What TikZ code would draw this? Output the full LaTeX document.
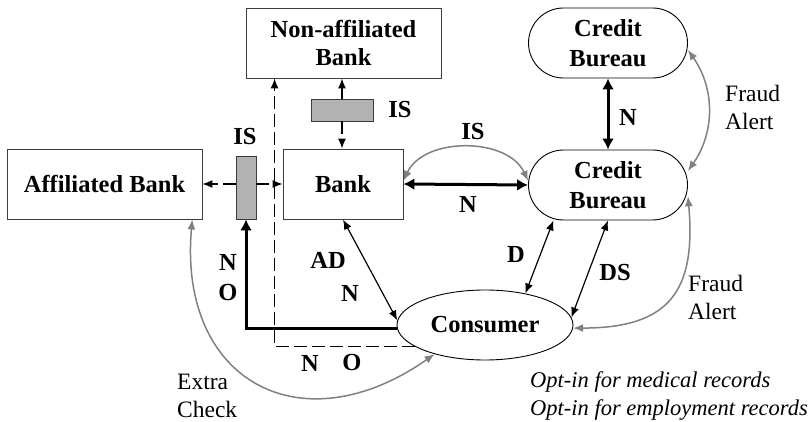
\documentclass[tikz,border=0pt]{standalone}
\usepackage{fontspec}
\setmainfont{Liberation Serif}
\usepackage{tikz}
\usetikzlibrary{shapes.geometric, arrows.meta, positioning, calc}
\definecolor{arcgray}{RGB}{128,128,128}
\definecolor{isgray}{RGB}{178,178,178}
\definecolor{boxline}{RGB}{60,60,60}

\begin{document}
\begin{tikzpicture}[x=1pt,y=-1pt,
    >={Latex[length=10pt,width=8pt]},
    bankbox/.style={rectangle,draw=boxline,line width=0.9pt,minimum width=#1,minimum height=70pt,inner sep=0pt,align=center,font=\fontsize{24.5}{28}\selectfont\bfseries},
    bankbox/.default=195pt,
    bureaubox/.style={rectangle,rounded corners=35pt,draw=black,line width=0.9pt,minimum width=159pt,minimum height=70pt,inner sep=0pt,align=center,font=\fontsize{24.5}{30}\selectfont\bfseries},
    consumerbox/.style={ellipse,draw=black,line width=0.9pt,minimum width=176pt,minimum height=70pt,inner sep=0pt,font=\fontsize{24.5}{28}\selectfont\bfseries},
    isbar/.style={rectangle,draw=boxline,line width=0.9pt,fill=isgray,inner sep=0pt},
    lbl/.style={font=\fontsize{24.5}{28}\selectfont\bfseries,inner sep=0pt},
    note/.style={font=\fontsize{23.5}{28}\selectfont,align=left,anchor=west,inner sep=0pt},
    biarrow/.style={line width=1.2pt,<->},
    thickarrow/.style={line width=3pt,>={Latex[length=11pt,width=12pt]}},
    grayarc/.style={draw=arcgray,line width=1.5pt,<->},
    dasharrow/.style={line width=1.2pt,dash pattern=on 13pt off 5pt,->}]
    \useasboundingbox (0,0) rectangle (808,422);

    % Banks
    \node[bankbox] (aff) at (104.5,184) {Affiliated Bank};
    \node[bankbox] (nab) at (343.5,43) {Non-affiliated\\Bank};
    \node[bankbox=120pt] (bank) at (343,184) {Bank};

    % Credit bureaus and consumer
    \node[bureaubox] (cbt) at (608,43) {Credit\\Bureau};
    \node[bureaubox] (cb) at (608,185) {Credit\\Bureau};
    \node[consumerbox] (cons) at (485,325) {Consumer};

    % IS bars
    \node[isbar,minimum width=20pt,minimum height=63pt] (isv) at (246,187.5) {};
    \node[isbar,minimum width=62pt,minimum height=22pt] (ish) at (342,110) {};

    % Information sharing between banks
    \draw[dasharrow] (isv.west |- aff.east) -- (aff.east);
    \draw[dasharrow] (isv.east |- bank.west) -- (bank.west);
    \draw[line width=1.2pt,->] (ish.north) -- (ish.north |- nab.south);
    \draw[dasharrow] (ish.south) -- (ish.south |- bank.north);
    \draw[dasharrow] (cons.197) -| ($(nab.south west)+(29,0)$);
    \draw[thickarrow,->] (cons.182) -| (isv.south);

    % Bank, bureaus, consumer
    \draw[thickarrow,<->] (bank.east) -- (cb.west);
    \draw[grayarc] (bank.3) to[bend left=65] (cb.177);
    \draw[thickarrow,<->] (cbt.south) -- (cb.north);
    \draw[biarrow] (bank.south) -- (cons.177);
    \draw[biarrow] (cons.38) -- (cb.213);
    \draw[biarrow] (cb.south) -- (cons.5);
    \draw[grayarc] (cbt.-5) to[bend left=35] (cb.10);
    \draw[grayarc] (cb.-8) to[out=-85,in=0,looseness=1.4] (cons.-2);
    \draw[grayarc] (aff.-22) to[out=-95,in=-145,looseness=1.5] (cons.210);

    % Labels
    \node[lbl] (isvl) at (245,137) {IS};
    \node[lbl] (ishl) at (400,110) {IS};
    \node[lbl] (isarc) at (473,132) {IS};
    \node[lbl] (nbc) at (468,204) {N};
    \node[lbl] (ncb) at (628,117) {N};
    \node[lbl] (nleft) at (228,262) {N};
    \node[lbl] (oleft) at (228,293) {O};
    \node[lbl] (adl) at (328,260) {AD};
    \node[lbl] (adn) at (350,293) {N};
    \node[lbl] (nbot) at (310,363) {N};
    \node[lbl] (obot) at (352,363) {O};
    \node[lbl] (dl) at (516,255) {D};
    \node[lbl] (dsl) at (615,273) {DS};
    \node[note] (fraudt) at (725,107) {Fraud\\Alert};
    \node[note] (fraudb) at (688,297) {Fraud\\Alert};
    \node[note] (extra) at (177,396) {Extra\\Check};
    \node[note,font=\fontsize{22.5}{28}\selectfont\itshape] (optin) at (530,396) {Opt-in for medical records\\Opt-in for employment records};
\end{tikzpicture}
\end{document}
